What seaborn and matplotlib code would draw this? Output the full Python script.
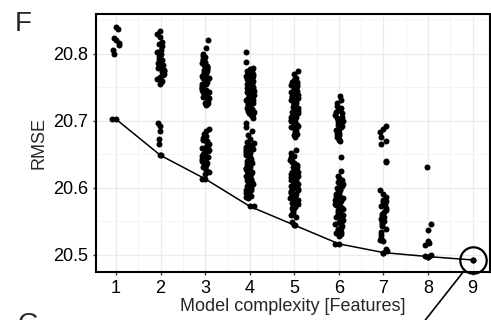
import numpy as np
import pandas as pd
import matplotlib.pyplot as plt
from matplotlib.ticker import MultipleLocator
import seaborn as sns

# RMSE of every feature subset, grouped by number of features
c1 = [20.840, 20.836, 20.824, 20.821, 20.816, 20.813, 20.806, 20.800, 20.702]
c2 = [20.833, 20.829, 20.825, 20.818, 20.815, 20.811, 20.806, 20.803, 20.800, 20.797,
      20.795, 20.792, 20.790, 20.789, 20.786, 20.784, 20.783, 20.781, 20.779, 20.778,
      20.776, 20.774, 20.772, 20.770, 20.768, 20.765, 20.762, 20.759, 20.757, 20.754,
      20.697, 20.692, 20.684, 20.673, 20.665, 20.648]
c3 = [20.821, 20.809, 20.800, 20.797, 20.795, 20.792, 20.790, 20.788, 20.786, 20.785,
      20.783, 20.781, 20.780, 20.778, 20.777, 20.775, 20.774, 20.772, 20.771, 20.770,
      20.768, 20.767, 20.765, 20.764, 20.763, 20.761, 20.760, 20.758, 20.757, 20.755,
      20.754, 20.752, 20.751, 20.749, 20.748, 20.746, 20.745, 20.743, 20.742, 20.740,
      20.739, 20.737, 20.735, 20.733, 20.731, 20.729, 20.727, 20.726, 20.725, 20.724,
      20.688, 20.684, 20.680, 20.677, 20.674, 20.671, 20.669, 20.667, 20.665, 20.663,
      20.661, 20.659, 20.658, 20.656, 20.655, 20.653, 20.652, 20.650, 20.649, 20.647,
      20.646, 20.644, 20.643, 20.641, 20.640, 20.638, 20.636, 20.634, 20.632, 20.630,
      20.627, 20.624, 20.620, 20.613]
c4 = [20.803, 20.788, 20.779, 20.777, 20.776, 20.774, 20.773, 20.771, 20.770, 20.769,
      20.767, 20.766, 20.765, 20.763, 20.762, 20.760, 20.759, 20.758, 20.756, 20.755,
      20.754, 20.752, 20.751, 20.750, 20.748, 20.747, 20.746, 20.744, 20.743, 20.742,
      20.741, 20.739, 20.738, 20.737, 20.735, 20.734, 20.733, 20.731, 20.730, 20.729,
      20.727, 20.726, 20.725, 20.723, 20.722, 20.721, 20.719, 20.718, 20.717, 20.716,
      20.714, 20.713, 20.712, 20.711, 20.710, 20.709, 20.704, 20.697, 20.690, 20.684,
      20.678, 20.672, 20.668, 20.666, 20.664, 20.663, 20.661, 20.660, 20.658, 20.657,
      20.655, 20.654, 20.652, 20.651, 20.649, 20.648, 20.647, 20.645, 20.644, 20.643,
      20.641, 20.640, 20.639, 20.637, 20.636, 20.635, 20.633, 20.632, 20.631, 20.629,
      20.628, 20.627, 20.625, 20.624, 20.623, 20.621, 20.620, 20.619, 20.617, 20.616,
      20.615, 20.613, 20.612, 20.611, 20.609, 20.608, 20.606, 20.605, 20.603, 20.602,
      20.600, 20.599, 20.597, 20.596, 20.594, 20.592, 20.590, 20.588, 20.586, 20.585,
      20.572]
c5 = [20.774, 20.769, 20.764, 20.762, 20.760, 20.758, 20.757, 20.755, 20.753, 20.752,
      20.750, 20.748, 20.747, 20.745, 20.744, 20.742, 20.741, 20.739, 20.738, 20.736,
      20.735, 20.733, 20.732, 20.730, 20.729, 20.727, 20.726, 20.725, 20.723, 20.722,
      20.720, 20.719, 20.718, 20.716, 20.715, 20.713, 20.712, 20.711, 20.709, 20.708,
      20.706, 20.705, 20.704, 20.702, 20.701, 20.699, 20.698, 20.697, 20.695, 20.694,
      20.692, 20.691, 20.689, 20.688, 20.686, 20.684, 20.682, 20.680, 20.678, 20.675,
      20.656, 20.651, 20.647, 20.645, 20.643, 20.641, 20.640, 20.638, 20.637, 20.635,
      20.634, 20.632, 20.631, 20.630, 20.628, 20.627, 20.626, 20.624, 20.623, 20.622,
      20.620, 20.619, 20.618, 20.616, 20.615, 20.614, 20.612, 20.611, 20.610, 20.608,
      20.607, 20.606, 20.604, 20.603, 20.602, 20.600, 20.599, 20.598, 20.596, 20.595,
      20.594, 20.592, 20.591, 20.590, 20.588, 20.587, 20.586, 20.584, 20.583, 20.581,
      20.580, 20.578, 20.577, 20.575, 20.573, 20.571, 20.569, 20.567, 20.565, 20.562,
      20.559, 20.556, 20.548, 20.544]
c6 = [20.736, 20.731, 20.726, 20.722, 20.719, 20.716, 20.713, 20.711, 20.708, 20.706,
      20.704, 20.702, 20.700, 20.698, 20.696, 20.694, 20.692, 20.690, 20.688, 20.686,
      20.684, 20.682, 20.680, 20.678, 20.676, 20.673, 20.671, 20.669, 20.645,
      20.625, 20.618, 20.614, 20.611, 20.609, 20.607, 20.605, 20.603, 20.601, 20.600,
      20.598, 20.596, 20.595, 20.593, 20.592, 20.590, 20.589, 20.587, 20.586, 20.584,
      20.583, 20.581, 20.580, 20.578, 20.577, 20.575, 20.574, 20.572, 20.571, 20.569,
      20.568, 20.566, 20.565, 20.563, 20.562, 20.560, 20.559, 20.557, 20.556, 20.554,
      20.552, 20.550, 20.548, 20.546, 20.544, 20.542, 20.540, 20.538, 20.536, 20.534,
      20.532, 20.530, 20.528, 20.516]
c7 = [20.692, 20.687, 20.683, 20.676, 20.670, 20.665, 20.640, 20.638, 20.597, 20.590,
      20.586, 20.582, 20.580, 20.578, 20.575, 20.572, 20.569, 20.566, 20.563, 20.561,
      20.558, 20.556, 20.553, 20.550, 20.548, 20.545, 20.542, 20.538, 20.534, 20.529,
      20.525, 20.522, 20.520, 20.508, 20.506, 20.503]
c8 = [20.631, 20.546, 20.536, 20.521, 20.517, 20.514, 20.499, 20.498, 20.497]
c9 = [20.492]

groups = [c1, c2, c3, c4, c5, c6, c7, c8, c9]
features = list(range(1, 10))

df = pd.DataFrame({
    'features': np.repeat(features, [len(g) for g in groups]),
    'rmse': np.concatenate(groups),
})
best = df.groupby('features', as_index=False)['rmse'].min()

sns.set_style('white')
plt.rcParams['font.family'] = ['Liberation Sans', 'DejaVu Sans']

np.random.seed(3)
fig = plt.figure(figsize=(4.91, 3.2), dpi=100)
ax = fig.add_axes([0.1955, 0.15, 0.8025, 0.806])

sns.stripplot(data=df, x='features', y='rmse', native_scale=True, jitter=0.09,
              color='black', size=4.3, linewidth=0, ax=ax, zorder=3)
sns.lineplot(data=best, x='features', y='rmse', color='black', lw=1.1,
             marker='o', markersize=4.3, markeredgewidth=0, ax=ax, zorder=4)

# highlight the best model
x9, y9 = best['features'].iloc[-1], best['rmse'].iloc[-1]
ax.plot([x9], [y9], marker='o', ms=19, mfc='none', mec='black', mew=1.6,
        clip_on=False, zorder=5)
ax.annotate('', xy=(x9, y9), xytext=(-37, -47), textcoords='offset points',
            annotation_clip=False,
            arrowprops=dict(arrowstyle='-', color='black', lw=1.2,
                            shrinkA=0, shrinkB=10.5))

ax.set_xlim(0.55, 9.39)
ax.set_ylim(20.474, 20.859)
ax.set_xticks(features)
ax.set_yticks([20.5, 20.6, 20.7, 20.8])
ax.xaxis.set_minor_locator(MultipleLocator(0.5))
ax.yaxis.set_minor_locator(MultipleLocator(0.05))
ax.grid(True, which='major', color='#EBEBEB', lw=1.0)
ax.grid(True, which='minor', color='#F4F4F4', lw=0.6)
ax.set_axisbelow(True)
ax.tick_params(which='major', length=2.5, width=1, color='#333333',
               labelsize=13, labelcolor='black', pad=3, bottom=True, left=True)
ax.tick_params(which='minor', length=0)
for s in ax.spines.values():
    s.set_visible(True)
    s.set_color('black')
    s.set_linewidth(1.5)

ax.set_xlabel('Model complexity [Features]', fontsize=13, labelpad=1)
ax.set_ylabel('RMSE', fontsize=13, labelpad=4)

fig.text(0.03, 0.965, 'F', fontsize=20, va='top', ha='left')
# next panel's letter, cut by the bottom edge as in the source figure
fig.text(0.035, 0.025, 'G', fontsize=20, va='top', ha='left')

fig.savefig('out.png', dpi=100)
